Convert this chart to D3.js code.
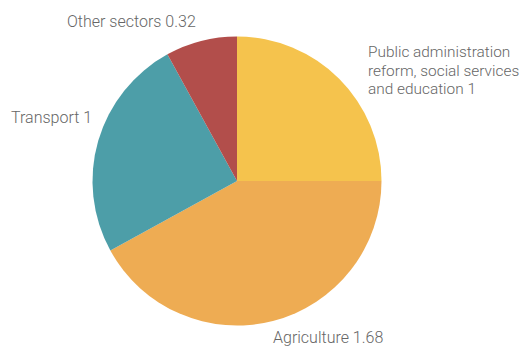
<!DOCTYPE html>
<html>
<head>
<meta charset="utf-8">
<script src="https://cdn.jsdelivr.net/npm/d3@7"></script>
<style>
  html, body { margin: 0; padding: 0; background: #ffffff; }
  svg { display: block; }
  text { font-family: Roboto, "Liberation Sans", Arial, sans-serif; font-weight: 300; fill: #666666; }
</style>
</head>
<body>
<svg id="chart" width="521" height="346"></svg>
<script>
// Sector shares (clockwise from 12 o'clock)
const sectors = ["Public administration reform, social services and education", "Agriculture", "Transport", "Other sectors"];
const values = [1, 1.68, 1, 0.32];
const colors = ["#f5c34d", "#eeac53", "#4d9ea8", "#b24e4b"];

// Label text lines per sector
const labelLines = [
  ["Public administration", "reform, social services", "and education 1"],
  ["Agriculture 1.68"],
  ["Transport 1"],
  ["Other sectors 0.32"]
];

const svg = d3.select("#chart");
const cx = 237, cy = 181, radius = 144.5;

const pie = d3.pie().sort(null).value(d => d);
const arcs = pie(values);
const arc = d3.arc().innerRadius(0).outerRadius(radius);

const g = svg.append("g").attr("transform", `translate(${cx},${cy})`);
g.selectAll("path")
  .data(arcs)
  .join("path")
  .attr("d", arc)
  .attr("fill", (d, i) => colors[i]);

// Label anchor positions (baseline of first line) and sizes
const labelPos = [
  { x: 368, y: 57, size: 15.4 },
  { x: 273, y: 343, size: 16 },
  { x: 11, y: 123, size: 16 },
  { x: 67, y: 27, size: 16 }
];

labelLines.forEach((lines, i) => {
  const t = svg.append("text")
    .attr("x", labelPos[i].x)
    .attr("y", labelPos[i].y)
    .attr("font-size", labelPos[i].size);
  lines.forEach((line, j) => {
    t.append("tspan")
      .attr("x", labelPos[i].x)
      .attr("dy", j === 0 ? 0 : 18.5)
      .text(line);
  });
});
</script>
</body>
</html>
